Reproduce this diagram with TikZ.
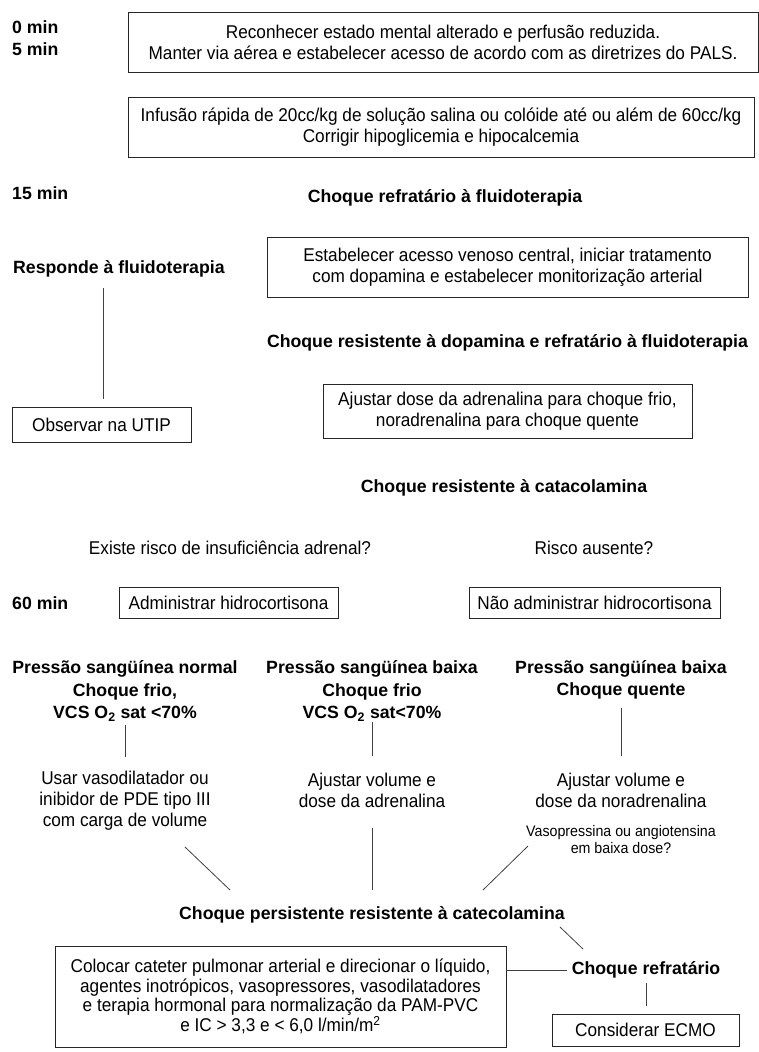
\documentclass[tikz,border=0pt]{standalone}
\usepackage{fontspec}
\setmainfont{Liberation Sans}
\newfontfamily\reg[FakeStretch=0.93]{Liberation Sans}
\begin{document}
\begin{tikzpicture}[x=1pt,y=-1pt,
  box/.style={draw=black!85, line width=0.9pt, inner sep=0pt, align=center,
    font=\reg\fontsize{18.5}{21}\selectfont},
  txt/.style={inner sep=0pt, align=center, font=\reg\fontsize{18.5}{21}\selectfont},
  small/.style={inner sep=0pt, align=center, font=\reg\fontsize{15.3}{17}\selectfont},
  hd/.style={inner sep=0pt, align=center, font=\bfseries\fontsize{17.7}{22.5}\selectfont},
  conn/.style={draw=black!75, line width=0.8pt}]
\useasboundingbox (0,0) rectangle (759,1052);
% time labels
\node[hd, align=left, anchor=west] (t0) at (12,38) {0 min\\5 min};
\node[hd, anchor=west] (t15) at (12,193) {15 min};
\node[hd, anchor=west] (t60) at (12,603) {60 min};
% boxes
\node[box, minimum width=630, minimum height=60] (b1) at (443,42)
  {Reconhecer estado mental alterado e perfusão reduzida.\\Manter via aérea e estabelecer acesso de acordo com as diretrizes do PALS.};
\node[box, minimum width=626, minimum height=60] (b2) at (441,127)
  {Infusão rápida de 20cc/kg de solução salina ou colóide até ou além de 60cc/kg\\Corrigir hipoglicemia e hipocalcemia};
\node[hd] (h1) at (445,198) {Choque refratário à fluidoterapia};
\node[box, minimum width=481, minimum height=60] (b3) at (507.5,267)
  {Estabelecer acesso venoso central, iniciar tratamento\\com dopamina e estabelecer monitorização arterial};
\node[hd, anchor=west] (resp) at (13,269) {Responde à fluidoterapia};
\node[box, minimum width=179, minimum height=35] (obs) at (101.5,424.5) {Observar na UTIP};
\node[hd] (h2) at (507.5,343) {Choque resistente à dopamina e refratário à fluidoterapia};
\node[box, minimum width=369, minimum height=54] (b4) at (507.5,411)
  {Ajustar dose da adrenalina para choque frio,\\noradrenalina para choque quente};
\node[hd] (h3) at (504,488) {Choque resistente à catacolamina};
\node[txt] (q1) at (230,548) {Existe risco de insuficiência adrenal?};
\node[txt] (q2) at (594,548) {Risco ausente?};
\node[box, minimum width=219, minimum height=31] (adm) at (228.5,602.5) {Administrar hidrocortisona};
\node[box, minimum width=251, minimum height=31] (nadm) at (594.5,602.5) {Não administrar hidrocortisona};
% columns
\node[hd] (c1h) at (125,691) {Pressão sangüínea normal\\Choque frio,\\VCS O\textsubscript{2} sat <70\%};
\node[hd] (c2h) at (372,691) {Pressão sangüínea baixa\\Choque frio\\VCS O\textsubscript{2} sat<70\%};
\node[hd] (c3h) at (621,680) {Pressão sangüínea baixa\\Choque quente};
\node[txt] (c1t) at (125,801) {Usar vasodilatador ou\\inibidor de PDE tipo III\\com carga de volume};
\node[txt] (c2t) at (372,790.5) {Ajustar volume e\\dose da adrenalina};
\node[txt] (c3t) at (621,790.5) {Ajustar volume e\\dose da noradrenalina};
\node[small] (c3s) at (621,839.5) {Vasopressina ou angiotensina\\em baixa dose?};
\node[hd] (pers) at (372,915) {Choque persistente resistente à catecolamina};
\node[box, minimum width=451, minimum height=101, font=\reg\fontsize{18.5}{19.5}\selectfont] (bot) at (280.5,996.5)
  {Colocar cateter pulmonar arterial e direcionar o líquido,\\agentes inotrópicos, vasopressores, vasodilatadores\\e terapia hormonal para normalização da PAM-PVC\\e IC > 3,3 e < 6,0 l/min/m\textsuperscript{2}};
\node[hd] (refr) at (646,970) {Choque refratário};
\node[box, minimum width=187, minimum height=32] (ecmo) at (645.5,1030) {Considerar ECMO};
% connector end points
\coordinate (a1) at (103,288); \coordinate (a2) at (103,399);
\coordinate (k1a) at (125,725); \coordinate (k1b) at (125,757);
\coordinate (k2a) at (372,722); \coordinate (k2b) at (372,756);
\coordinate (k3a) at (621,708); \coordinate (k3b) at (621,756);
\coordinate (d1a) at (185,847); \coordinate (d1b) at (230,890);
\coordinate (m2a) at (372,828); \coordinate (m2b) at (372,890);
\coordinate (d3a) at (528,846); \coordinate (d3b) at (483,890);
\coordinate (d4a) at (560,927); \coordinate (d4b) at (583,949);
\coordinate (e1) at (646,983); \coordinate (e2) at (646,1006);
\draw[conn] (a1) -- (a2);
\draw[conn] (k1a) -- (k1b);
\draw[conn] (k2a) -- (k2b);
\draw[conn] (k3a) -- (k3b);
\draw[conn] (d1a) -- (d1b);
\draw[conn] (m2a) -- (m2b);
\draw[conn] (d3a) -- (d3b);
\draw[conn] (d4a) -- (d4b);
\draw[conn, shorten >=5pt] (bot.east |- refr) -- (refr.west);
\draw[conn] (e1) -- (e2);
\end{tikzpicture}
\end{document}
